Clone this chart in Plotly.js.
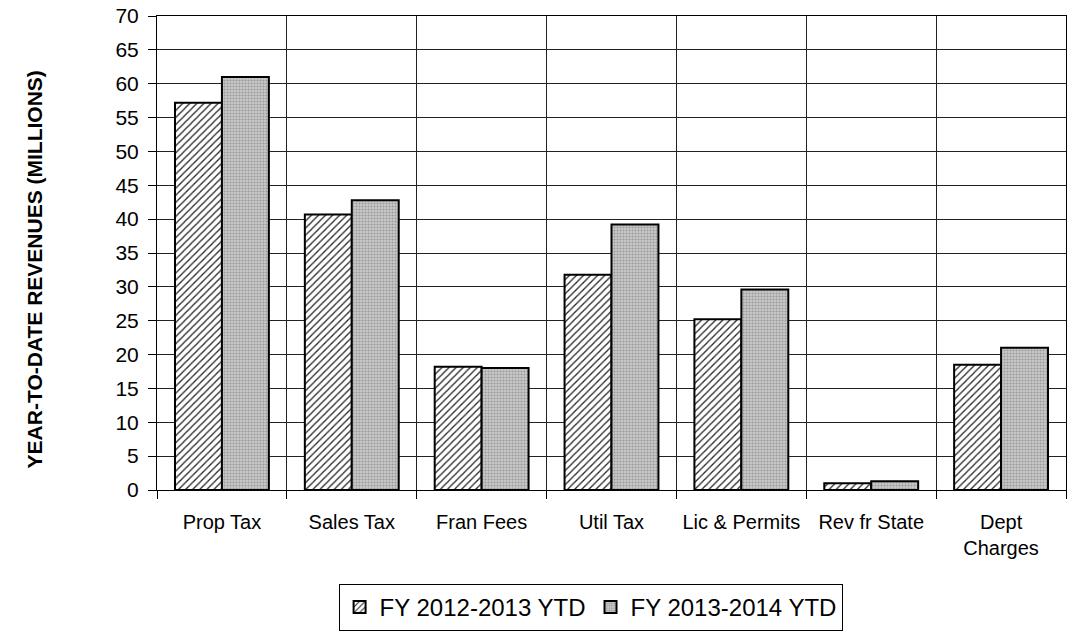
<!DOCTYPE html>
<html><head><meta charset="utf-8">
<script src="https://cdn.plot.ly/plotly-3.0.1.min.js"></script>
<style>html,body{margin:0;padding:0;background:#fff;}</style>
</head><body>
<div id="chart" style="width:1074px;height:640px;"></div>
<script>
const categories = ["Prop Tax", "Sales Tax", "Fran Fees", "Util Tax", "Lic & Permits", "Rev fr State", "Dept<br>Charges"];
const fy1213 = [57.2, 40.7, 18.2, 31.8, 25.2, 1.0, 18.5];
const fy1314 = [61.0, 42.8, 18.0, 39.2, 29.6, 1.3, 21.0];
const seriesNames = ["FY 2012-2013 YTD", "FY 2013-2014 YTD"];
const yTicks = [0,5,10,15,20,25,30,35,40,45,50,55,60,65,70];
const yTitle = "YEAR-TO-DATE REVENUES (MILLIONS)";

const traces = [
  {type:'bar', name:seriesNames[0], x:categories, y:fy1213,
   marker:{color:'#ffffff', line:{color:'#000', width:2},
     pattern:{shape:'/', fgcolor:'#222', bgcolor:'#ffffff', size:5, solidity:0.25}}},
  {type:'bar', name:seriesNames[1], x:categories, y:fy1314,
   marker:{color:'#c4c4c4', line:{color:'#000', width:2},
     pattern:{shape:'.', fgcolor:'#9a9a9a', bgcolor:'#cacaca', size:3, solidity:0.4}}}
];

const layout = {
  width:1074, height:640,
  margin:{l:157, r:8, t:16, b:150},
  paper_bgcolor:'#fff', plot_bgcolor:'#fff',
  font:{family:'Liberation Sans, Arial, sans-serif', color:'#000'},
  barmode:'group', bargap:0.277, bargroupgap:0,
  showlegend:true,
  legend:{orientation:'h', x:0.477, xanchor:'center', y:-0.198, yanchor:'top',
    bordercolor:'#000', borderwidth:1, font:{size:24, color:'#000'},
    itemwidth:30, tracegroupgap:0},
  xaxis:{type:'category', tickson:'boundaries', showgrid:true, gridcolor:'#222', gridwidth:1,
    ticks:'outside', ticklen:8, tickcolor:'#000', showline:true, linecolor:'#000', linewidth:1,
    mirror:true, tickfont:{size:20}, ticklabelstandoff:14},
  yaxis:{range:[0,70], tickvals:yTicks, showgrid:true, gridcolor:'#222', gridwidth:1,
    ticks:'outside', ticklen:8, tickcolor:'#000', showline:true, linecolor:'#000', linewidth:1,
    mirror:true, tickfont:{size:21}, zeroline:false, ticklabelstandoff:5},
  annotations:[{text:'<b>'+yTitle+'</b>', xref:'paper', yref:'paper', x:-0.135, y:0.466,
    xanchor:'center', yanchor:'middle', textangle:-90, showarrow:false, font:{size:21, color:'#000'}}]
};

Plotly.newPlot('chart', traces, layout, {displayModeBar:false, staticPlot:true});
</script>
</body></html>
